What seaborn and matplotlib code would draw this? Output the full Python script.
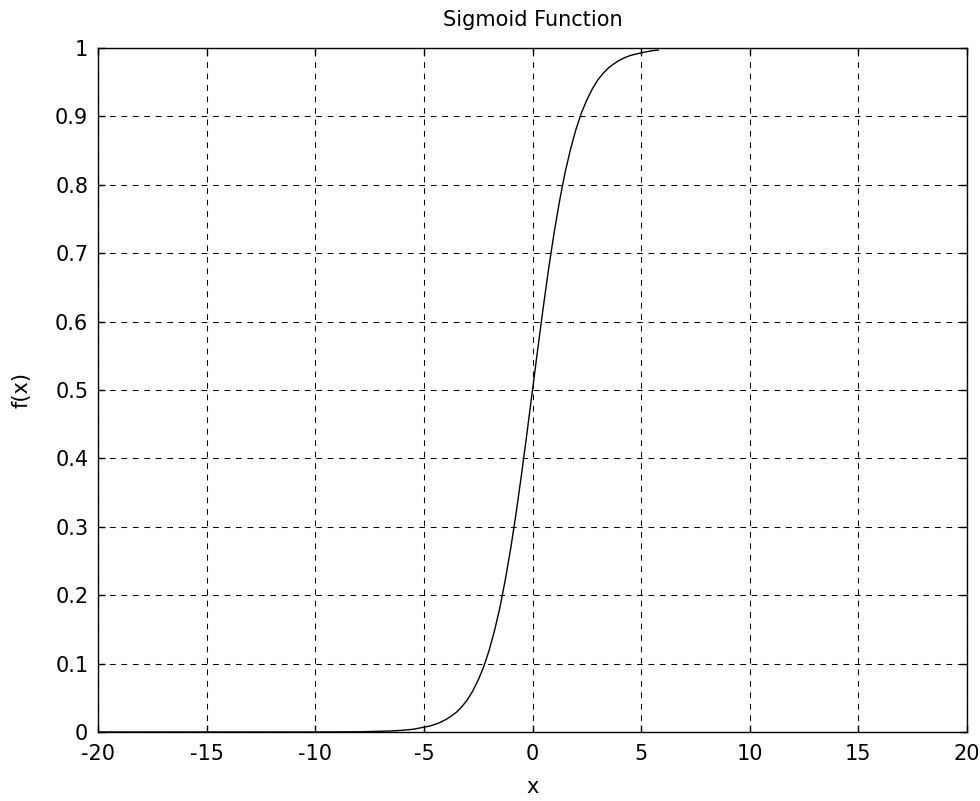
import matplotlib
matplotlib.use("Agg")
import matplotlib.pyplot as plt
import seaborn as sns
import pandas as pd

# values
x_vals = [-20, -10, -8, -6.5, -6, -5.5, -5, -4.75, -4.5, -4.25, -4, -3.75, -3.5, -3.25,
          -3, -2.75, -2.5, -2.25, -2, -1.75, -1.5, -1.25, -1, -0.75, -0.5, -0.25, 0,
          0.25, 0.5, 0.75, 1, 1.25, 1.5, 1.75, 2, 2.25, 2.5, 2.75, 3, 3.25, 3.5, 3.75,
          4, 4.25, 4.5, 4.75, 5, 5.5, 5.8]
y_vals = [0.0, 0.0, 0.0003, 0.0015, 0.0025, 0.004, 0.007, 0.0086, 0.011, 0.014, 0.018,
          0.023, 0.029, 0.037, 0.047, 0.060, 0.076, 0.095, 0.119, 0.148, 0.182, 0.223,
          0.269, 0.321, 0.378, 0.438, 0.5, 0.562, 0.622, 0.679, 0.731, 0.777, 0.818,
          0.852, 0.881, 0.905, 0.924, 0.940, 0.953, 0.963, 0.971, 0.977, 0.982, 0.986,
          0.989, 0.991, 0.993, 0.996, 0.997]
x_ticks = [-20, -15, -10, -5, 0, 5, 10, 15, 20]
y_ticks = [0, 0.1, 0.2, 0.3, 0.4, 0.5, 0.6, 0.7, 0.8, 0.9, 1]
y_tick_labels = ["0", "0.1", "0.2", "0.3", "0.4", "0.5", "0.6", "0.7", "0.8", "0.9", "1"]

df = pd.DataFrame({"x": x_vals, "f": y_vals})

sns.set_style("ticks")
plt.rcParams["font.family"] = ["DejaVu Sans"]
plt.rcParams["text.color"] = "black"
plt.rcParams["axes.labelcolor"] = "black"

fig = plt.figure(figsize=(9.8, 8.01), dpi=100)
ax = fig.add_axes([98 / 980, (801 - 732) / 801, (967 - 98) / 980, (732 - 48) / 801])

sns.lineplot(data=df, x="x", y="f", ax=ax, color="black", linewidth=1.0)

ax.set_xlim(-20, 20)
ax.set_ylim(0, 1)
ax.set_xticks(x_ticks)
ax.set_xticklabels([str(t) for t in x_ticks])
ax.set_yticks(y_ticks)
ax.set_yticklabels(y_tick_labels)
ax.grid(True, color="black", linestyle=(0, (5.5, 5.5)), linewidth=0.75)
ax.tick_params(direction="in", length=5, width=1, top=True, right=True,
               labelsize=15, colors="black")
ax.tick_params(axis="x", pad=9)
ax.tick_params(axis="y", pad=7)
for s in ax.spines.values():
    s.set_color("black")
    s.set_linewidth(1.0)

ax.set_title("Sigmoid Function", fontsize=15, pad=16, color="black")
ax.set_xlabel("x", fontsize=15, labelpad=9)
ax.set_ylabel("f(x)", fontsize=15, labelpad=17)

fig.savefig("out.png", dpi=100, facecolor="white")
